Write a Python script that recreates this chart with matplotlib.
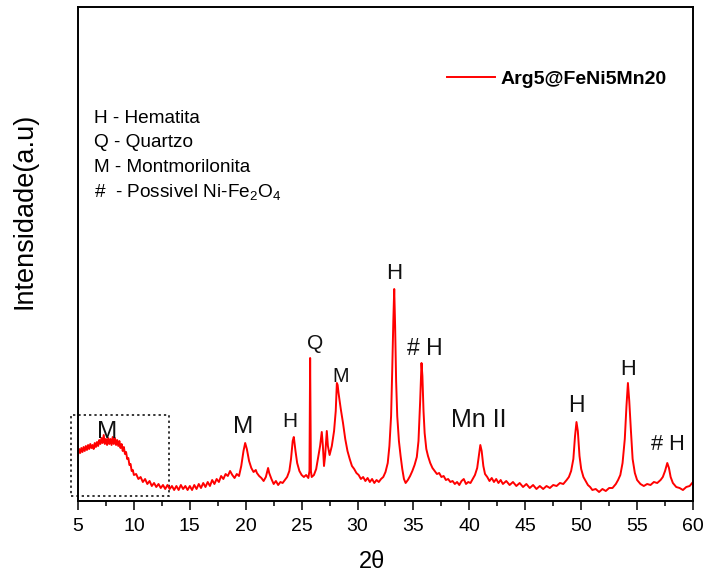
import matplotlib
matplotlib.use("Agg")
import matplotlib.pyplot as plt
from matplotlib.patches import Rectangle

plt.rcParams['font.family'] = ['Liberation Sans', 'DejaVu Sans']
plt.rcParams['mathtext.fontset'] = 'custom'
plt.rcParams['mathtext.rm'] = 'Liberation Sans'
plt.rcParams['mathtext.it'] = 'Liberation Sans:italic'

# ---- data (2theta, intensity in arbitrary units) ----
two_theta = [
    5.0, 5.1, 5.2, 5.3, 5.4, 5.5, 5.6, 5.7, 5.8, 5.9,
    6.0, 6.1, 6.2, 6.3, 6.4, 6.5, 6.6, 6.7, 6.8, 6.9,
    7.0, 7.1, 7.2, 7.3, 7.4, 7.5, 7.6, 7.7, 7.8, 7.9,
    8.0, 8.1, 8.2, 8.3, 8.4, 8.5, 8.6, 8.7, 8.8, 8.9,
    9.0, 9.1, 9.2, 9.3, 9.4, 9.5, 9.6, 9.7, 9.8, 9.9,
    10.0, 10.2, 10.4, 10.6, 10.8, 11.0, 11.2, 11.4, 11.6, 11.8,
    12.0, 12.2, 12.4, 12.6, 12.8, 13.0, 13.2, 13.4, 13.6, 13.8,
    14.0, 14.2, 14.4, 14.6, 14.8, 15.0, 15.2, 15.4, 15.6, 15.8,
    16.0, 16.2, 16.4, 16.6, 16.8, 17.0, 17.2, 17.4, 17.6, 17.8,
    18.0, 18.2, 18.4, 18.6, 18.8, 19.0, 19.2, 19.4, 19.6, 19.8,
    19.95, 20.1, 20.3, 20.5, 20.7, 20.9, 21.0, 21.2, 21.4, 21.6,
    21.8, 22.0, 22.1, 22.3, 22.5, 22.7, 22.9, 23.1, 23.3, 23.5,
    23.7, 23.9, 24.05, 24.2, 24.3, 24.45, 24.6, 24.8, 25.0, 25.2,
    25.4, 25.6, 25.7, 25.74, 25.76, 25.79, 25.83, 25.9, 26.1, 26.3,
    26.5, 26.65, 26.8, 26.9, 27.0, 27.1, 27.25, 27.35, 27.5, 27.7,
    27.9, 28.05, 28.15, 28.22, 28.3, 28.4, 28.5, 28.7, 28.9, 29.1,
    29.3, 29.5, 29.7, 29.9, 30.1, 30.3, 30.5, 30.7, 30.9, 31.1,
    31.3, 31.5, 31.7, 31.9, 32.1, 32.3, 32.5, 32.7, 32.85, 33.0,
    33.1, 33.2, 33.28, 33.36, 33.45, 33.55, 33.7, 33.85, 34.0, 34.15,
    34.3, 34.5, 34.7, 34.9, 35.1, 35.3, 35.45, 35.6, 35.72, 35.8,
    35.9, 36.0, 36.15, 36.3, 36.5, 36.7, 36.9, 37.1, 37.3, 37.5,
    37.7, 37.9, 38.1, 38.3, 38.5, 38.7, 38.9, 39.1, 39.3, 39.5,
    39.7, 39.9, 40.1, 40.3, 40.5, 40.7, 40.85, 40.98, 41.1, 41.25,
    41.4, 41.6, 41.8, 42.0, 42.2, 42.4, 42.6, 42.8, 43.0, 43.3,
    43.6, 43.9, 44.2, 44.5, 44.8, 45.1, 45.4, 45.7, 46.0, 46.3,
    46.6, 46.9, 47.2, 47.5, 47.8, 48.1, 48.4, 48.7, 48.9, 49.1,
    49.3, 49.45, 49.58, 49.7, 49.85, 50.0, 50.2, 50.4, 50.6, 50.8,
    51.0, 51.3, 51.6, 51.9, 52.2, 52.5, 52.8, 53.1, 53.3, 53.5,
    53.7, 53.9, 54.05, 54.18, 54.3, 54.45, 54.6, 54.8, 55.0, 55.3,
    55.6, 55.9, 56.2, 56.5, 56.8, 57.1, 57.3, 57.5, 57.7, 57.85,
    58.0, 58.2, 58.5, 58.8, 59.1, 59.4, 59.7, 60.0,
]
intensity = [
    46, 52, 48, 53, 49, 54, 50, 55, 51, 56,
    52, 57, 53, 56, 52, 58, 54, 59, 55, 61,
    57, 63, 58, 66, 57, 62, 56, 63, 57, 62,
    56, 64, 57, 63, 56, 61, 55, 60, 53, 57,
    50, 54, 47, 49, 42, 43, 36, 37, 30, 31,
    26, 27, 22, 24, 19, 22, 17, 20, 15, 18,
    14, 17, 13, 16, 12, 16, 12, 15, 11, 15,
    11, 16, 12, 15, 11, 15, 11, 16, 12, 17,
    13, 18, 14, 19, 15, 21, 17, 22, 19, 25,
    22, 27, 25, 30, 26, 23, 27, 25, 35, 50,
    58, 52, 40, 33, 29, 31, 28, 25, 23, 20,
    24, 33, 28, 22, 17, 20, 16, 19, 18, 21,
    24, 30, 42, 60, 64, 50, 38, 30, 26, 24,
    26, 23, 30, 100, 143, 100, 30, 24, 26, 32,
    45, 55, 69, 55, 35, 45, 70, 55, 46, 55,
    70, 90, 118, 116, 108, 100, 92, 78, 62, 50,
    42, 35, 32, 28, 26, 22, 24, 20, 23, 19,
    22, 18, 21, 19, 22, 24, 29, 38, 55, 85,
    130, 180, 212, 175, 120, 85, 60, 45, 32, 22,
    18, 21, 25, 30, 36, 44, 60, 100, 138, 125,
    90, 68, 52, 45, 38, 33, 30, 27, 28, 24,
    25, 21, 22, 19, 20, 17, 19, 16, 20, 22,
    17, 19, 18, 22, 26, 33, 45, 56, 50, 35,
    27, 24, 20, 23, 19, 22, 18, 21, 17, 20,
    16, 19, 15, 18, 14, 17, 13, 16, 12, 15,
    12, 15, 13, 16, 15, 18, 17, 21, 24, 30,
    42, 65, 79, 70, 45, 32, 24, 20, 16, 14,
    11, 12, 9, 12, 10, 13, 13, 17, 21, 26,
    38, 62, 95, 118, 100, 70, 42, 28, 21, 17,
    15, 17, 16, 19, 18, 21, 24, 30, 38, 33,
    24, 18, 14, 13, 11, 14, 15, 19,
]

peak_labels = ["M", "M", "H", "Q", "M", "H", "# H", "Mn II", "H", "H", "# H"]
label_x = [7.6, 19.76, 23.96, 26.2, 28.5, 33.27, 36.0, 40.8, 49.54, 54.15, 57.73]
label_y = [63, 68, 74, 152, 119, 222, 146, 74, 89, 126, 51]
label_size = [17.5, 17.5, 15, 15, 14.2, 16, 16.5, 18, 16.5, 15.7, 15.7]

phase_key = ["H - Hematita", "Q - Quartzo", "M - Montmorilonita",
             "#  - Possivel Ni-Fe$_\\mathrm{2}$O$_\\mathrm{4}$"]
series_name = "Arg5@FeNi5Mn20"

W, H = 708, 574
fig = plt.figure(figsize=(W / 100, H / 100), dpi=100)
ax = fig.add_axes([78 / W, 1 - 501 / H, (693 - 78) / W, (501 - 7) / H])

ax.plot(two_theta, intensity, color='#ff0000', lw=1.4, label=series_name)
ax.set_xlim(5, 60)
ax.set_ylim(0, 494)

ax.set_xticks(range(5, 61, 5))
ax.set_xticks([5 + 2.5 * i for i in range(23)], minor=True)
ax.set_yticks([])
ax.tick_params(axis='x', which='major', direction='out', length=6.5, width=1.1,
               labelsize=14, pad=6)
ax.tick_params(axis='x', which='minor', direction='out', length=3.6, width=1.1)
for s in ax.spines.values():
    s.set_linewidth(1.4)

for t, x, y, fs in zip(peak_labels, label_x, label_y, label_size):
    ax.text(x, y, t, ha='center', va='baseline', fontsize=fs, color='#111111')

# dotted box around the low-angle montmorillonite hump
rect = Rectangle((4.35, 5), 13.14 - 4.35, 86 - 5, fill=False, ec='black',
                 lw=1.1, ls=(0, (1.5, 2.0)), clip_on=False)
ax.add_patch(rect)

# phase key text
base_y = [122.7, 147.5, 172.0, 196.5]
for t, by in zip(phase_key, base_y):
    fig.text(94.3 / W, 1 - by / H, t, ha='left', va='baseline', fontsize=13.7)

fig.text(25 / W, 1 - 211 / H, "Intensidade(a.u)", rotation=90, ha='center',
         va='center', fontsize=19.5)
fig.text(371.7 / W, 1 - 568 / H, "2θ", ha='center', va='baseline', fontsize=17)

ax.legend(loc='center left', bbox_to_anchor=(447 / W, 1 - 79 / H),
          bbox_transform=fig.transFigure, frameon=False, borderpad=0,
          borderaxespad=0, handlelength=2.47, handletextpad=0.3,
          prop={'weight': 'bold', 'size': 14, 'family': 'Liberation Sans'})

fig.savefig("out.png", dpi=100)
